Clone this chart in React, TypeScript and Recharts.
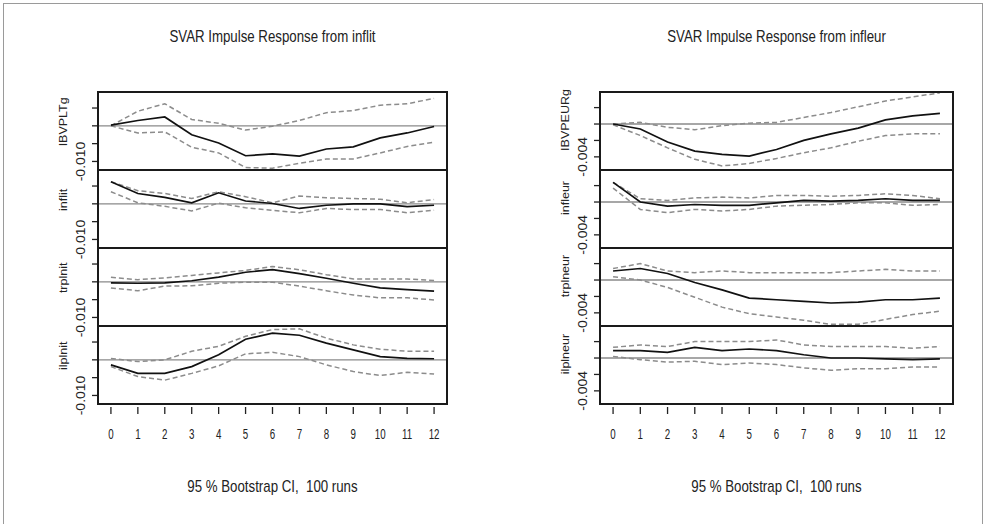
import React from "react";
import { LineChart, Line, XAxis, YAxis, ReferenceLine } from "recharts";

const horizons = [0, 1, 2, 3, 4, 5, 6, 7, 8, 9, 10, 11, 12];

// shock: inflit
const ibvpltgIrf = [0.0002, 0.0015, 0.0025, -0.0025, -0.0048, -0.0084, -0.0079, -0.0085, -0.0065, -0.0059, -0.0034, -0.002, -0.0002];
const ibvpltgUp = [0, 0.0041, 0.0062, 0.0018, 0.0007, -0.0012, -0.0001, 0.0015, 0.0037, 0.0043, 0.0058, 0.0062, 0.0077];
const ibvpltgLow = [0, -0.002, -0.0017, -0.006, -0.0076, -0.0117, -0.0119, -0.0105, -0.0093, -0.0093, -0.0076, -0.0058, -0.0046];

const inflitIrf = [0.0062, 0.0029, 0.0018, 0.0003, 0.0031, 0.0008, 0.0001, -0.0013, -0.0004, 0, 0, -0.0008, -0.0004];
const inflitUp = [0.0062, 0.0037, 0.0029, 0.0015, 0.0034, 0.002, 0.0003, 0.0022, 0.0017, 0.0015, 0.0013, 0.0003, 0.0012];
const inflitLow = [0.0034, 0.0003, -0.0007, -0.002, 0.0002, -0.0011, -0.0018, -0.0025, -0.0013, -0.0016, -0.0016, -0.0025, -0.0018];

const trplnitIrf = [-0.0003, -0.0004, -0.0003, 0.0003, 0.0013, 0.0027, 0.0034, 0.0023, 0.001, -0.0004, -0.0017, -0.0022, -0.0026];
const trplnitUp = [0.0013, 0.0006, 0.0011, 0.0018, 0.0025, 0.0032, 0.0043, 0.0034, 0.002, 0.0008, 0.0008, 0.0008, 0.0004];
const trplnitLow = [-0.0017, -0.0025, -0.0012, -0.0011, -0.0004, -0.0001, -0.0001, -0.0012, -0.0025, -0.0037, -0.0045, -0.0045, -0.0051];

const ilplnitIrf = [-0.0014, -0.0038, -0.0038, -0.0019, 0.0014, 0.0058, 0.0075, 0.0069, 0.0047, 0.0028, 0.0009, 0.0004, 0.0003];
const ilplnitUp = [0.0004, -0.0005, 0, 0.0024, 0.0038, 0.0066, 0.0085, 0.0087, 0.0061, 0.0042, 0.003, 0.0024, 0.0024];
const ilplnitLow = [-0.0019, -0.0047, -0.0057, -0.0038, -0.0017, 0.0017, 0.0021, 0.0009, -0.0014, -0.0033, -0.0044, -0.0035, -0.004];

// shock: infleur
const ibvpeurgIrf = [0, -0.0006, -0.0022, -0.0033, -0.0037, -0.0039, -0.0031, -0.002, -0.0012, -0.0005, 0.0005, 0.001, 0.0013];
const ibvpeurgUp = [0, 0.0002, -0.0004, -0.0007, -0.0002, 0.0001, 0.0002, 0.0008, 0.0014, 0.0021, 0.0028, 0.0033, 0.0038];
const ibvpeurgLow = [-0.0001, -0.0014, -0.0029, -0.0043, -0.0051, -0.0048, -0.0042, -0.0035, -0.0029, -0.0021, -0.0014, -0.0012, -0.0012];

const infleurIrf = [0.0024, 0, -0.0005, -0.0003, -0.0004, -0.0004, -0.0001, 0.0002, 0.0001, 0.0002, 0.0004, 0.0002, 0.0002];
const infleurUp = [0.0024, 0.0004, 0.0002, 0.0005, 0.0006, 0.0005, 0.0008, 0.0008, 0.0007, 0.0008, 0.001, 0.0008, 0.0004];
const infleurLow = [0.0017, -0.0009, -0.0013, -0.0009, -0.0011, -0.0009, -0.0005, -0.0004, -0.0003, -0.0001, -0.0001, -0.0004, -0.0003];

const trplneurIrf = [0.0011, 0.0014, 0.0008, -0.0003, -0.0012, -0.0022, -0.0024, -0.0026, -0.0028, -0.0027, -0.0024, -0.0024, -0.0022];
const trplneurUp = [0.0014, 0.002, 0.0011, 0.0009, 0.0011, 0.0009, 0.0009, 0.0009, 0.0009, 0.0011, 0.0013, 0.0011, 0.0011];
const trplneurLow = [0.0004, 0, -0.0009, -0.0021, -0.0033, -0.0041, -0.0045, -0.0049, -0.0054, -0.0054, -0.0048, -0.0042, -0.0038];

const ilplneurIrf = [0.0009, 0.0009, 0.0007, 0.0013, 0.0009, 0.0011, 0.0009, 0.0004, 0, 0, -0.0001, -0.0002, -0.0001];
const ilplneurUp = [0.0013, 0.0016, 0.0014, 0.002, 0.002, 0.002, 0.0022, 0.0016, 0.0014, 0.0014, 0.0014, 0.0012, 0.0014];
const ilplneurLow = [0.0002, -0.0002, -0.0005, -0.0004, -0.0008, -0.0006, -0.0008, -0.0012, -0.0015, -0.0013, -0.0013, -0.0011, -0.0011];

const leftTicks = [0.005, 0, -0.005, -0.01];
const rightTicks = [0.002, 0, -0.002, -0.004];

const leftSeries = [
  { name: "IBVPLTg", irf: ibvpltgIrf, up: ibvpltgUp, low: ibvpltgLow },
  { name: "inflit", irf: inflitIrf, up: inflitUp, low: inflitLow },
  { name: "trplnit", irf: trplnitIrf, up: trplnitUp, low: trplnitLow },
  { name: "ilplnit", irf: ilplnitIrf, up: ilplnitUp, low: ilplnitLow },
];
const rightSeries = [
  { name: "IBVPEURg", irf: ibvpeurgIrf, up: ibvpeurgUp, low: ibvpeurgLow },
  { name: "infleur", irf: infleurIrf, up: infleurUp, low: infleurLow },
  { name: "trplneur", irf: trplneurIrf, up: trplneurUp, low: trplneurLow },
  { name: "ilplneur", irf: ilplneurIrf, up: ilplneurUp, low: ilplneurLow },
];

const AXW = 60;
const SUB_H = 78;
const TOP = 92;
const X_H = 42;
const FONT = "Liberation Sans, Arial, sans-serif";

function Subplot({ s, ticks, domain, bottom, boxW }) {
  const data = horizons.map((h, i) => ({ h, irf: s.irf[i], up: s.up[i], low: s.low[i] }));
  const labelTick = ticks[ticks.length - 1];

  const yTick = (p) => {
    const v = p.payload.value;
    return (
      <g>
        <line x1={p.x - 6} x2={p.x} y1={p.y} y2={p.y} stroke="#222" strokeWidth={1.3} />
        {v === labelTick && (
          <text
            transform={`translate(${p.x - 13},${p.y}) scale(0.85,1) rotate(-90)`}
            textAnchor="middle"
            fontSize={14}
            fontFamily={FONT}
            fill="#222"
          >
            {v.toFixed(3)}
          </text>
        )}
        {v === 0 && (
          <text
            transform={`translate(${p.x - 31},${p.y - 4}) scale(0.85,1) rotate(-90)`}
            textAnchor="middle"
            fontSize={12.5}
            fontFamily={FONT}
            fill="#222"
          >
            {s.name}
          </text>
        )}
      </g>
    );
  };

  const xTick = (p) => (
    <g>
      <line x1={p.x} x2={p.x} y1={p.y + 3} y2={p.y + 10} stroke="#222" strokeWidth={1.3} />
      <text
        transform={`translate(${p.x},${p.y + 35}) scale(0.65,1)`}
        textAnchor="middle"
        fontSize={15}
        fontFamily={FONT}
        fill="#222"
      >
        {p.payload.value}
      </text>
    </g>
  );

  return (
    <LineChart
      width={AXW + boxW}
      height={SUB_H + (bottom ? X_H : 0)}
      data={data}
      margin={{ top: 0, right: 0, bottom: 0, left: 0 }}
    >
      <XAxis
        dataKey="h"
        type="number"
        domain={[-0.48, 12.48]}
        ticks={horizons}
        interval={0}
        hide={!bottom}
        height={X_H}
        tickLine={false}
        axisLine={false}
        tickSize={0}
        tickMargin={0}
        tick={xTick}
        allowDataOverflow
      />
      <YAxis
        type="number"
        domain={domain}
        ticks={ticks}
        interval={0}
        width={AXW}
        tickLine={false}
        axisLine={false}
        tickSize={0}
        tickMargin={0}
        tick={yTick}
        allowDataOverflow
      />
      <ReferenceLine y={0} stroke="#8a8a8a" strokeWidth={1.3} />
      <Line dataKey="up" stroke="#8c8c8c" strokeWidth={1.5} strokeDasharray="5 3" dot={false} isAnimationActive={false} />
      <Line dataKey="low" stroke="#8c8c8c" strokeWidth={1.5} strokeDasharray="5 3" dot={false} isAnimationActive={false} />
      <Line dataKey="irf" stroke="#111" strokeWidth={1.7} dot={false} isAnimationActive={false} />
    </LineChart>
  );
}

function Panel({ series, ticks, domain, boxLeft, boxW, title }) {
  const textStyle = {
    position: "absolute" as const,
    left: boxLeft - 60,
    width: boxW + 120,
    textAlign: "center" as const,
    fontFamily: FONT,
    fontSize: 17,
    color: "#222",
    transform: "scaleX(0.78)",
    whiteSpace: "nowrap" as const,
  };
  return (
    <>
      <div style={{ ...textStyle, top: 27 }}>{title}</div>
      <div style={{ ...textStyle, top: 477 }}>95 % Bootstrap CI,&nbsp; 100 runs</div>
      {series.map((s, i) => (
        <div key={s.name} style={{ position: "absolute", left: boxLeft - AXW, top: TOP + i * SUB_H }}>
          <Subplot s={s} ticks={ticks} domain={domain} bottom={i === series.length - 1} boxW={boxW} />
        </div>
      ))}
      {series.map((s, i) => (
        <div
          key={"box" + s.name}
          style={{
            position: "absolute",
            left: boxLeft - 1,
            top: TOP + i * SUB_H - 1,
            width: boxW + 2,
            height: SUB_H + 2,
            border: "2px solid #1a1a1a",
            boxSizing: "border-box",
            pointerEvents: "none",
          }}
        />
      ))}
    </>
  );
}

export default function App() {
  return (
    <div style={{ position: "absolute", left: 0, top: 0, width: 986, height: 524, background: "#fff", overflow: "hidden" }}>
      <style>{`.recharts-surface{overflow:visible}`}</style>
      <div
        style={{
          position: "absolute",
          left: 3,
          top: 3,
          width: 980,
          height: 540,
          border: "1px solid #9a9a9a",
          boxSizing: "border-box",
        }}
      />
      <Panel
        series={leftSeries}
        ticks={leftTicks}
        domain={[-0.0124, 0.0095]}
        boxLeft={98}
        boxW={349}
        title="SVAR Impulse Response from inflit"
      />
      <Panel
        series={rightSeries}
        ticks={rightTicks}
        domain={[-0.0056, 0.0039]}
        boxLeft={600}
        boxW={353}
        title="SVAR Impulse Response from infleur"
      />
    </div>
  );
}
